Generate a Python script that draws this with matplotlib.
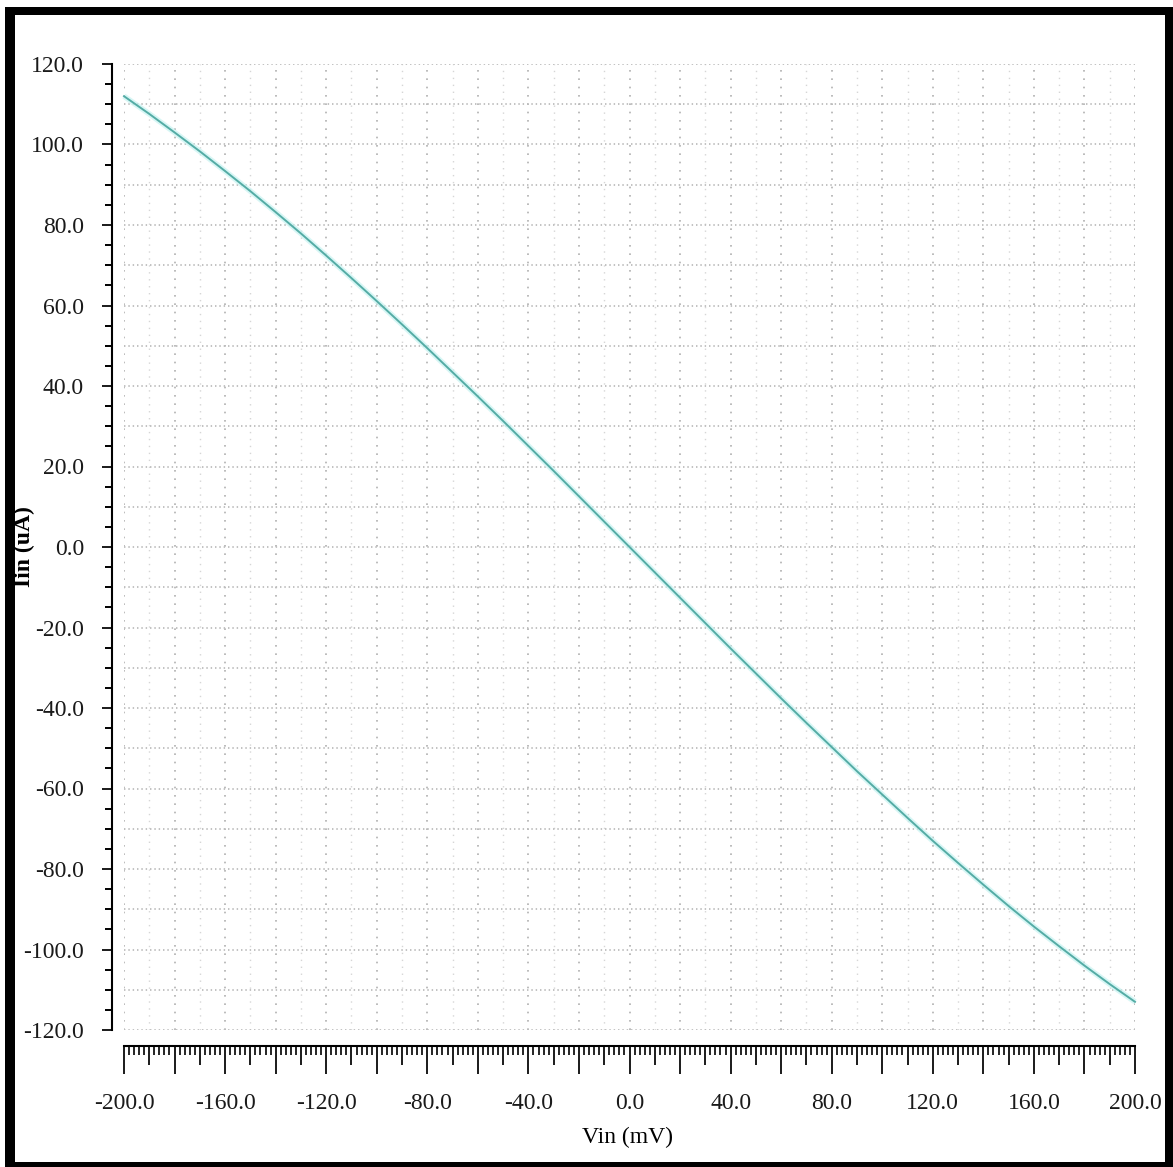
import numpy as np
import matplotlib
matplotlib.use("Agg")
import matplotlib.pyplot as plt
from matplotlib.ticker import MultipleLocator, FuncFormatter, FixedLocator
from matplotlib.patches import Rectangle

# ---- data ----
vin_mv = [-200, -190, -180, -170, -160, -150, -140, -130, -120, -110, -100,
          -90, -80, -70, -60, -50, -40, -30, -20, -10, 0,
          10, 20, 30, 40, 50, 60, 70, 80, 90, 100,
          110, 120, 130, 140, 150, 160, 170, 180, 190, 200]
iin_ua = [112.0, 107.6, 103.0, 98.3, 93.4, 88.4, 83.2, 77.9, 72.4, 66.8, 61.1,
          55.3, 49.4, 43.4, 37.4, 31.3, 25.1, 18.9, 12.6, 6.3, 0.0,
          -6.3, -12.6, -18.9, -25.2, -31.4, -37.6, -43.7, -49.7, -55.7, -61.5,
          -67.3, -73.0, -78.5, -83.9, -89.2, -94.3, -99.2, -104.0, -108.6, -113.0]
x_labels_every = 40
x_label_text = "Vin (mV)"
y_label_text = "Iin (uA)"

W, H = 1173, 1167
fig = plt.figure(figsize=(W / 100, H / 100), dpi=100)
plt.rcParams['font.family'] = ['Liberation Serif', 'DejaVu Serif']

pos = [124 / W, 1 - 1030 / H, 1011 / W, 966 / H]

# grid axes (underneath)
gax = fig.add_axes(pos, zorder=0)
gax.set_xlim(-200, 200)
gax.set_ylim(-120, 120)
gax.xaxis.set_major_locator(MultipleLocator(20))
gax.xaxis.set_minor_locator(MultipleLocator(10))
gax.yaxis.set_major_locator(MultipleLocator(10))
gax.grid(which='major', axis='x', color='#b0b0b0', linestyle=(0, (1, 4)), linewidth=1.2)
gax.grid(which='minor', axis='x', color='#d6d6d6', linestyle=(0, (1, 4)), linewidth=1.0)
gax.grid(which='major', axis='y', color='#bdbdbd', linestyle=(0, (0.8, 1.6)), linewidth=1.3)
gax.tick_params(which='both', length=0, labelbottom=False, labelleft=False)
for s in gax.spines.values():
    s.set_visible(False)

# main axes
ax = fig.add_axes(pos, zorder=1)
ax.patch.set_alpha(0)
ax.set_xlim(-200, 200)
ax.set_ylim(-120, 120)

ax.plot(vin_mv, iin_ua, color='#c6f3f1', linewidth=4.0, alpha=0.7, solid_capstyle='butt', clip_on=False)
ax.plot(vin_mv, iin_ua, color='#54aca5', linewidth=1.4, clip_on=False)

for side in ['top', 'right']:
    ax.spines[side].set_visible(False)
ax.spines['left'].set_position(('outward', 12 * 0.72))
ax.spines['bottom'].set_position(('outward', 16 * 0.72))
ax.spines['left'].set_linewidth(1.5)
ax.spines['bottom'].set_linewidth(1.5)

major_x = list(range(-200, 201, 10))
ax.xaxis.set_major_locator(FixedLocator(major_x))
ax.xaxis.set_minor_locator(MultipleLocator(2))
ax.xaxis.set_major_formatter(FuncFormatter(
    lambda v, p: f"{v:.1f}" if int(round(v)) % x_labels_every == 0 else ""))
ax.yaxis.set_major_locator(MultipleLocator(20))
ax.yaxis.set_minor_locator(MultipleLocator(5))
ax.yaxis.set_major_formatter(FuncFormatter(lambda v, p: f"{v:.1f}"))

ax.tick_params(axis='x', which='major', direction='out', length=28 * 0.72, width=1.4,
               pad=14, labelsize=17, colors='#1a1a1a')
ax.tick_params(axis='x', which='minor', direction='out', length=9 * 0.72, width=1.2)
ax.tick_params(axis='y', which='major', direction='out', length=10 * 0.72, width=1.4,
               pad=13, labelsize=17, colors='#1a1a1a')
ax.tick_params(axis='y', which='minor', direction='out', length=7 * 0.72, width=1.4)

# medium ticks every 10 (non-multiples of 20) shorter
ticks = ax.xaxis.get_major_ticks(len(major_x))
for v, t in zip(major_x, ticks):
    if v % 20 != 0:
        t.tick1line.set_markersize(19 * 0.72)

ax.set_xlabel(x_label_text, fontsize=17)
ax.xaxis.set_label_coords(0.4985, -0.100)
ax.set_ylabel(y_label_text, fontsize=17, fontweight='bold')
ax.yaxis.set_label_coords(-0.088, 0.5)

# outer black frame
def frame(x0, y0, x1, y1):
    fig.patches.append(Rectangle((x0 / W, 1 - y1 / H), (x1 - x0) / W, (y1 - y0) / H,
                                 transform=fig.transFigure, facecolor='black',
                                 edgecolor='none', zorder=10))
frame(5, 7, 15, 1167)
frame(5, 7, 1173, 15)
frame(1165, 7, 1173, 1167)
frame(5, 1162, 1173, 1167)

fig.savefig("out.png", dpi=100)
